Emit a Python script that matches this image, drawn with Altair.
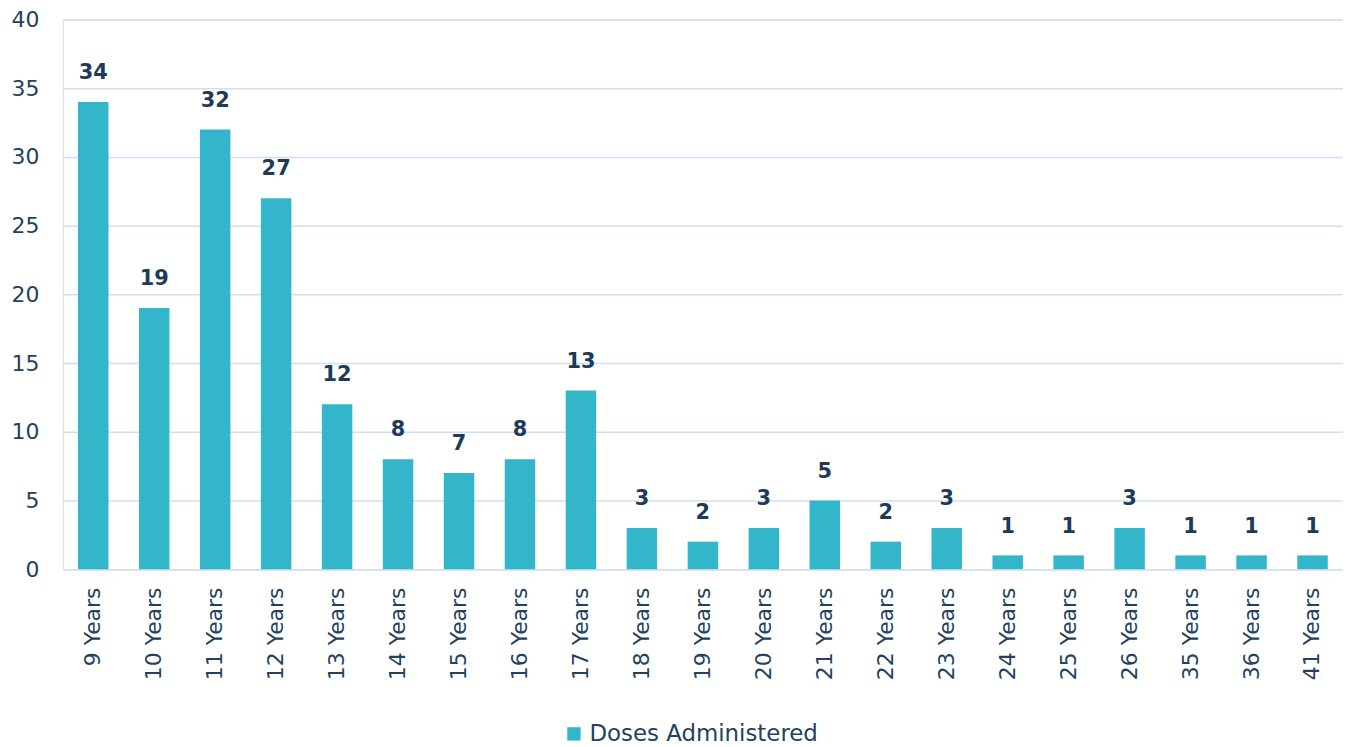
import altair as alt
import pandas as pd

categories = ["9 Years", "10 Years", "11 Years", "12 Years", "13 Years", "14 Years",
              "15 Years", "16 Years", "17 Years", "18 Years", "19 Years", "20 Years",
              "21 Years", "22 Years", "23 Years", "24 Years", "25 Years", "26 Years",
              "35 Years", "36 Years", "41 Years"]
doses = [34, 19, 32, 27, 12, 8, 7, 8, 13, 3, 2, 3, 5, 2, 3, 1, 1, 3, 1, 1, 1]
series_name = "Doses Administered"

df = pd.DataFrame({"age": categories, "doses": doses, "series": series_name})

FONT = "DejaVu Sans"
BAR = "#33b6c9"
GRID = "#cfe0f2"
TXT = "#23425e"

base = alt.Chart(df).encode(
    x=alt.X("age:N", sort=categories, title=None,
            scale=alt.Scale(paddingInner=0.5, paddingOuter=0.25),
            axis=alt.Axis(labelAngle=-90, labelFontSize=22, labelColor=TXT,
                          labelFont=FONT, labelPadding=18, ticks=False,
                          domain=True, domainColor=GRID, domainWidth=1.5)),
    y=alt.Y("doses:Q", title=None,
            scale=alt.Scale(domain=[0, 40]),
            axis=alt.Axis(values=[0, 5, 10, 15, 20, 25, 30, 35, 40], labelFontSize=22,
                          labelColor=TXT, labelFont=FONT, labelPadding=24,
                          ticks=False, domain=False, gridColor=GRID, gridWidth=1.5)),
)

bars = base.mark_bar(color=BAR).encode(
    color=alt.Color("series:N", scale=alt.Scale(range=[BAR]), title=None,
                    legend=alt.Legend(orient="none", legendX=502, legendY=706,
                                      symbolType="square", symbolSize=180,
                                      labelFontSize=23, labelFont=FONT, labelLimit=0,
                                      labelColor=TXT, symbolStrokeWidth=0))
)

labels = base.mark_text(baseline="bottom", dy=-19, fontSize=21, fontWeight="bold",
                        font=FONT, color="#1d3a57").encode(text="doses:Q")

chart = (bars + labels).properties(
    width=1286, height=552,
    autosize=alt.AutoSizeParams(type="none"),
    padding={"left": 55, "top": 10, "right": 0, "bottom": 177},
).configure_view(stroke=None).configure(background="white")

chart.save("out.html", embed_options={"renderer": "svg", "actions": False})
